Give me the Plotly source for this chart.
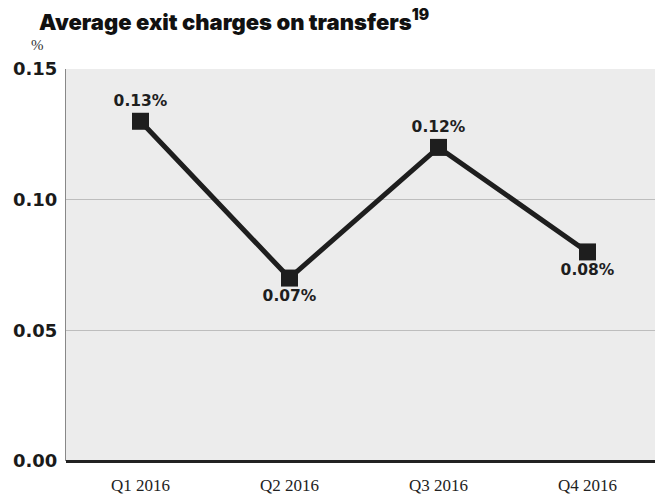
import plotly.graph_objects as go

QUARTERS = ["Q1 2016", "Q2 2016", "Q3 2016", "Q4 2016"]
EXIT_CHARGES = [0.13, 0.07, 0.12, 0.08]
LABELS = ["0.13%", "0.07%", "0.12%", "0.08%"]
LABEL_POS = ["top center", "bottom center", "top center", "bottom center"]

INK = "#1e1e1e"
HEAVY = "Inter"
SANS = "DejaVu Sans"
SERIF = "Liberation Serif"

fig = go.Figure()
fig.add_trace(go.Scatter(
    x=QUARTERS, y=EXIT_CHARGES,
    mode="lines+markers+text",
    line=dict(color=INK, width=5),
    marker=dict(symbol="square", size=17, color=INK),
    text=LABELS, textposition=LABEL_POS,
    textfont=dict(family=SANS, size=15.5, color=INK, weight="bold"),
    cliponaxis=False,
    showlegend=False,
))

# page body has an 8px margin, so the figure is a little smaller than the window
fig.update_layout(
    width=655, height=491,
    margin=dict(l=58, r=1, t=61, b=38),
    paper_bgcolor="white",
    plot_bgcolor="#ececec",
    title=dict(
        text="Average exit charges on transfers<sup>19</sup>",
        xref="container", yref="container",
        x=31 / 655, y=1 - 14 / 491, xanchor="left", yanchor="middle",
        pad=dict(l=0, r=0, t=0, b=0),
        font=dict(family=HEAVY, size=22, color="#111", weight=900),
    ),
)
fig.add_annotation(
    text="%", xref="paper", yref="paper", x=-0.062, y=1.062,
    xanchor="left", yanchor="middle", showarrow=False,
    font=dict(family=SERIF, size=15, color="#333"),
)

fig.update_xaxes(
    type="category", range=[-0.5, 3.5],
    showgrid=False, showline=False, zeroline=False,
    ticks="", ticklabelstandoff=12,
    tickfont=dict(family=SERIF, size=17, color="#222"),
    fixedrange=True,
)
fig.update_yaxes(
    range=[0, 0.15], dtick=0.05, tickformat=".2f",
    showgrid=True, gridcolor="#bdbdbd", gridwidth=1,
    zeroline=True, zerolinecolor="#222", zerolinewidth=3,
    showline=True, linecolor="#888", linewidth=1,
    ticks="", ticklabelstandoff=4,
    tickfont=dict(family=SANS, size=18, color="#1a1a1a", weight="bold"),
    fixedrange=True,
)

fig.write_html("out.html")
